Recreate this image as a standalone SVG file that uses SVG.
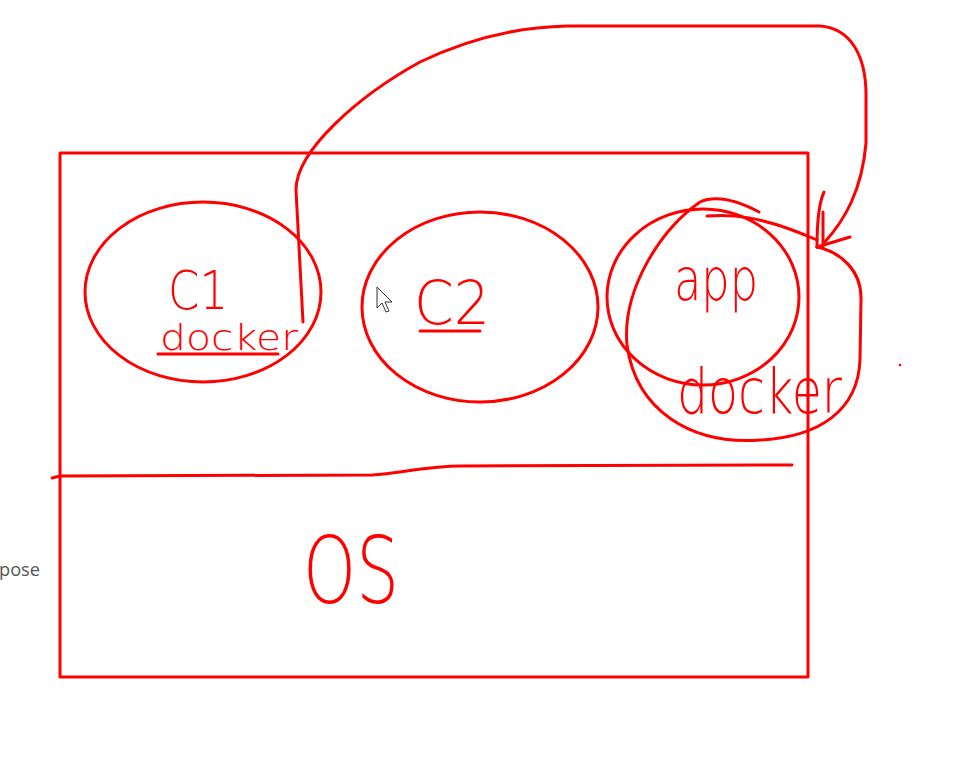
<svg xmlns="http://www.w3.org/2000/svg" width="977" height="781" viewBox="0 0 977 781">
<style>
.ink{fill:none;stroke:#ff0000;stroke-width:3;stroke-linecap:round;stroke-linejoin:round}
.hand{fill:#ff0000;font-family:"DejaVu Sans","Liberation Sans",sans-serif;font-weight:200}
.side{fill:#555555;font-family:"Open Sans","Liberation Sans",sans-serif;font-size:19px}
</style>
<rect width="977" height="781" fill="#ffffff"/>
<text class="side" x="-1" y="576" textLength="41" lengthAdjust="spacingAndGlyphs">pose</text>
<g id="host">
<rect class="ink" x="60" y="153" width="748" height="524"/>
</g>
<g id="divider">
<path class="ink" d="M52,478 L60,476 L372,475 C400,473 430,466 460,466 L792,465"/>
</g>
<g id="c1">
<ellipse class="ink" cx="203" cy="292" rx="118" ry="90"/>
<text class="hand" x="168" y="309" font-size="54" textLength="60" lengthAdjust="spacingAndGlyphs">C1</text>
<text class="hand" x="160" y="350" font-size="36" textLength="138" lengthAdjust="spacingAndGlyphs">docker</text>
<path class="ink" d="M158,354 L278,354"/>
</g>
<g id="c2">
<ellipse class="ink" cx="480" cy="307" rx="118" ry="95"/>
<text class="hand" x="414" y="324" font-size="60" textLength="76" lengthAdjust="spacingAndGlyphs">C2</text>
<path class="ink" d="M420,331 L480,331"/>
</g>
<g id="app">
<ellipse class="ink" cx="703" cy="297" rx="96" ry="88"/>
<text class="hand" x="674" y="300" font-size="58" textLength="84" lengthAdjust="spacingAndGlyphs">app</text>
<path class="ink" d="M707,216 C730,214 760,215 817,240"/>
<path class="ink" d="M759,212 C740,202 718,194 700,202 C660,230 622,290 627,345 C636,410 690,445 760,440 C820,437 858,410 860,360 L861,300 C862,270 840,252 817,247"/>
<text class="hand" x="677" y="413" font-size="62" textLength="165" lengthAdjust="spacingAndGlyphs">docker</text>
</g>
<g id="os">
<text class="hand" x="303" y="603" font-size="92" textLength="96" lengthAdjust="spacingAndGlyphs">OS</text>
</g>
<g id="connectors">
<path class="ink" d="M303,322 L296,190 C296,150 360,95 420,62 C470,38 520,27 567,26 L820,26 C850,28 866,55 866,95 L866,143 C862,190 845,220 824,243"/>
<path class="ink" d="M817,247 L850,237"/>
<path class="ink" d="M823,212 L823,247"/>
<path class="ink" d="M817,247 C817,225 818,205 824,192"/>
</g>
<circle cx="900" cy="365" r="1.3" fill="#ff0000"/>
<path d="M377,287 L377,308 L382,303 L386,312 L389,311 L385,302 L392,302 Z" fill="#ffffff" stroke="#333333" stroke-width="1"/>
</svg>
